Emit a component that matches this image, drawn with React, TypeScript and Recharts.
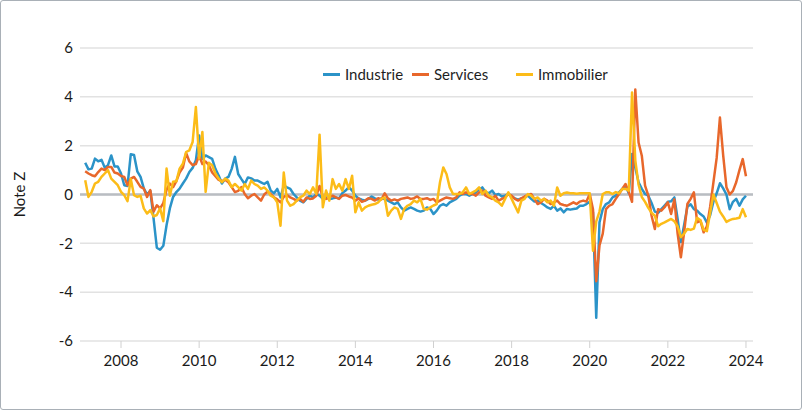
import React from 'react';
import { LineChart, Line, XAxis, YAxis, CartesianGrid, ReferenceLine, Legend } from 'recharts';

// Monthly Z-scores, Feb 2007 .. Jan 2024
const industrie = [
  1.3, 1.03, 1.06, 1.47, 1.36, 1.42, 1.1, 1.2, 1.6, 1.15, 1.15,
  0.86, 0.38, 0.35, 1.65, 1.62, 0.95, 0.72, 0.25, 0.0, 0.15, -0.98, -2.18,
  -2.26, -2.1, -1.25, -0.57, -0.1, 0.1, 0.24, 0.45, 0.65, 0.92, 1.09, 1.4,
  2.42, 1.45, 1.6, 1.53, 1.46, 1.05, 0.78, 0.45, 0.65, 0.72, 1.05, 1.54,
  0.84, 0.63, 0.43, 0.7, 0.66, 0.57, 0.57, 0.5, 0.43, 0.52, 0.16, 0.05,
  0.23, -0.12, 0.36, 0.29, 0.23, 0.02, -0.12, -0.25, -0.32, -0.18, -0.05, -0.12,
  0.02, -0.05, -0.18, -0.12, -0.18, -0.16, -0.12, -0.16, 0.06, 0.16, 0.3, 0.16,
  -0.05, -0.16, -0.21, -0.25, -0.18, -0.08, -0.16, -0.21, -0.16, -0.18, -0.25, -0.32,
  -0.39, -0.32, -0.53, -0.66, -0.59, -0.53, -0.59, -0.66, -0.7, -0.66, -0.53, -0.59,
  -0.8, -0.66, -0.46, -0.39, -0.46, -0.32, -0.25, -0.18, -0.05, 0.02, 0.02, -0.05,
  0.02, 0.09, 0.2, 0.29, 0.09, 0.05, 0.16, -0.02, 0.02, -0.08, -0.05, 0.02,
  -0.08, -0.16, -0.21, -0.16, -0.12, -0.05, -0.18, -0.29, -0.25, -0.35, -0.43, -0.53,
  -0.59, -0.46, -0.66, -0.57, -0.73, -0.59, -0.62, -0.59, -0.57, -0.46, -0.46, -0.39,
  -0.3, -0.73, -5.05, -1.14, -0.6, -0.39, -0.32, -0.12, -0.05, 0.09, 0.23, 0.36,
  0.05, 1.66, 1.1, 0.5, 0.23, 0.02, -0.05, -0.35, -0.7, -0.75, -0.6, -0.45,
  -0.3, -0.28, -0.12, -1.0, -1.95, -1.25, -0.5, -0.4, -0.6, -0.66, -0.8, -0.9,
  -1.15, -0.85, -0.3, 0.05, 0.46, 0.25, 0.0, -0.6, -0.3, -0.18, -0.46, -0.2,
  -0.05,
];

const services = [
  0.95, 0.86, 0.79, 0.75, 0.92, 1.06, 1.0, 1.13, 1.13, 0.9, 0.86,
  0.76, 0.72, 0.38, 0.65, 0.72, 0.52, 0.31, 0.24, -0.1, 0.18, -0.7, -0.44,
  -0.57, -0.35, 0.2, 0.45, 0.3, 0.55, 0.9, 1.1, 1.7, 1.35, 1.2, 1.25,
  1.6, 1.25, 1.35, 1.2, 0.9, 0.75, 0.6, 0.55, 0.6, 0.5, 0.3, 0.1,
  0.15, 0.3, 0.02, -0.15, -0.05, 0.02, -0.12, -0.25, 0.0, 0.12, 0.02, -0.12,
  -0.2, -0.32, -0.1, -0.02, -0.12, -0.18, -0.25, -0.18, -0.3, -0.12, -0.18, -0.16,
  -0.05, 0.35, -0.12, -0.18, -0.12, -0.05, -0.12, -0.18, -0.05, -0.02, -0.08, -0.12,
  -0.25, -0.16, -0.3, -0.25, -0.15, -0.18, -0.25, -0.15, -0.2, 0.05, -0.16, -0.25,
  -0.2, -0.25, -0.18, -0.15, -0.12, -0.18, -0.15, -0.08, -0.18, -0.18, -0.15, -0.22,
  -0.18, -0.32, -0.25, -0.18, -0.12, -0.15, -0.18, -0.12, 0.09, 0.02, 0.09, 0.02,
  0.02, -0.05, 0.09, 0.16, -0.05, -0.12, -0.18, -0.05, -0.25, -0.18, -0.12, 0.02,
  -0.05, -0.18, -0.25, -0.16, -0.08, -0.02, 0.02, -0.18, -0.39, -0.32, -0.18, -0.25,
  -0.39, -0.32, -0.25, -0.39, -0.43, -0.46, -0.39, -0.32, -0.39, -0.29, -0.25, -0.29,
  0.02, -0.6, -3.55, -2.09, -1.6, -0.6, -0.46, -0.39, -0.18, 0.02, 0.23, 0.43,
  0.1, -0.3, 4.3, 2.13, 1.59, 0.36, -0.05, -0.87, -1.41, -0.6, -0.66, -0.52,
  -0.32, -0.8, -0.2, -1.6, -2.57, -1.55, -0.39, -0.18, 0.09, -1.14, -1.07, -1.55,
  -1.3, -0.5, 0.5, 1.5, 3.15, 1.6, 0.3, 0.0, 0.15, 0.5, 1.0, 1.45,
  0.75,
];

const immobilier = [
  0.58, -0.1, 0.11, 0.45, 0.52, 0.72, 0.86, 1.0, 0.65, 0.52, 0.38,
  0.11, -0.03, -0.27, 0.63, -0.03, -0.1, -0.05, -0.57, -0.78, -0.64, -0.9, -0.84,
  -0.57, -1.09, 1.06, -0.05, 0.52, 0.54, 1.06, 1.26, 1.74, 1.81, 2.15, 3.58,
  1.47, 2.56, 0.11, 1.3, 1.2, 0.86, 0.65, 0.5, 0.65, 0.57, 0.3, 0.43,
  0.3, 0.16, 0.43, 0.23, 0.57, 0.43, 0.36, 0.23, 0.29, 0.16, -0.05, -0.12,
  -0.32, -1.28, 0.9, -0.25, -0.46, -0.39, -0.25, -0.12, -0.05, 0.16, 0.02, 0.29,
  0.02, 2.45, -0.52, 0.16, -0.25, 0.63, 0.23, 0.43, 0.16, 0.63, 0.23, 0.77,
  -0.73, -0.32, -0.66, -0.53, -0.46, -0.42, -0.39, -0.32, -0.18, -0.12, -0.87, -0.66,
  -0.53, -0.59, -1.0, -0.59, -0.46, -0.39, -0.25, -0.32, -0.18, -0.59, -0.62, -0.53,
  -0.45, -0.39, 0.5, 1.11, 0.84, 0.29, 0.02, 0.02, 0.02, 0.09, 0.29, 0.02,
  0.09, 0.16, 0.29, 0.02, 0.16, -0.05, -0.12, -0.25, -0.32, -0.46, -0.18, 0.09,
  -0.18, -0.46, -0.73, -0.25, -0.18, 0.02, -0.05, -0.18, -0.12, -0.25, -0.18, -0.32,
  -0.25, -0.46, 0.29, -0.05, 0.05, 0.08, 0.05, 0.05, 0.03, 0.05, 0.05, 0.05,
  0.05, -2.3, -1.1, -0.7, 0.02, 0.09, 0.09, 0.02, 0.1, 0.05, 0.23, 0.23,
  0.16, 4.18, 1.4, 0.4, -0.1, -0.3, -0.55, -0.75, -0.87, -1.3, -1.2, -1.14,
  -1.07, -1.0, -1.1, -1.3, -1.75, -1.6, -1.41, -1.45, -1.4, -0.95, -1.05, -1.45,
  -1.5, -0.75, 0.0, -0.35, -0.7, -0.9, -1.12, -1.05, -1.0, -0.98, -0.95, -0.6,
  -0.93,
];

const xTicks = [2008, 2010, 2012, 2014, 2016, 2018, 2020, 2022, 2024];
const yTicks = [-6, -4, -2, 0, 2, 4, 6];
const seriesNames = ['Industrie', 'Services', 'Immobilier'];
const seriesColors = ['#2b93c8', '#e8672b', '#fcbc18'];

const firstMonth = 2007 + 1 / 12;
const data = industrie.map((v, k) => ({
  t: firstMonth + k / 12,
  industrie: v,
  services: services[k],
  immobilier: immobilier[k],
}));

const FONT = 'Lato, "Open Sans", sans-serif';

const legendOffsets = [0, 89, 193];

const LegendContent = () => (
  <div style={{ position: 'relative', height: 20, fontFamily: FONT, fontSize: 15, color: '#1e1e1e' }}>
    {seriesNames.map((name, k) => (
      <div
        key={name}
        style={{ position: 'absolute', left: legendOffsets[k], top: 0, display: 'flex', alignItems: 'center', height: 20, whiteSpace: 'nowrap' }}
      >
        <span style={{ display: 'inline-block', width: 17, height: 3, background: seriesColors[k], marginRight: 5 }} />
        <span>{name}</span>
      </div>
    ))}
  </div>
);

export default function App() {
  return (
    <div
      style={{
        position: 'absolute',
        left: 0,
        top: 0,
        width: 802,
        height: 410,
        boxSizing: 'border-box',
        border: '1px solid #a9b0b7',
        borderRadius: 3,
        background: '#fff',
        overflow: 'hidden',
      }}
    >
      <div style={{ position: 'absolute', left: -1, top: -1 }}>
        <LineChart width={802} height={410} data={data} margin={{ top: 48, right: 49, bottom: 39, left: 0 }}>
          <CartesianGrid vertical={false} stroke="#e2e2e2" strokeWidth={1.5} />
          <XAxis
            dataKey="t"
            type="number"
            domain={[2006.95, 2024.18]}
            ticks={xTicks}
            allowDataOverflow
            axisLine={false}
            tickLine={{ stroke: '#d0d0d0' }}
            tickSize={7}
            tickMargin={7}
            height={30}
            tick={{ fill: '#1a1a1a', fontSize: 15, fontFamily: FONT }}
          />
          <YAxis
            type="number"
            domain={[-6, 6]}
            ticks={yTicks}
            width={80}
            axisLine={false}
            tickLine={false}
            tickSize={5}
            tickMargin={2}
            tick={{ fill: '#1a1a1a', fontSize: 15, fontFamily: FONT }}
            label={{
              value: 'Note Z',
              angle: -90,
              position: 'insideLeft',
              offset: 20,
              style: { textAnchor: 'middle', fill: '#1a1a1a', fontSize: 15, fontFamily: FONT },
            }}
          />
          <ReferenceLine y={0} stroke="#b9bdc2" strokeWidth={2.5} />
          <Legend
            layout="horizontal"
            verticalAlign="middle"
            align="center"
            wrapperStyle={{ left: 323, top: 64, width: 320, height: 20 }}
            content={() => <LegendContent />}
          />
          <Line type="linear" dataKey="industrie" name="Industrie" stroke={seriesColors[0]} strokeWidth={2.5} dot={false} isAnimationActive={false} strokeLinejoin="round" />
          <Line type="linear" dataKey="services" name="Services" stroke={seriesColors[1]} strokeWidth={2.5} dot={false} isAnimationActive={false} strokeLinejoin="round" />
          <Line type="linear" dataKey="immobilier" name="Immobilier" stroke={seriesColors[2]} strokeWidth={2.5} dot={false} isAnimationActive={false} strokeLinejoin="round" />
        </LineChart>
      </div>
    </div>
  );
}
